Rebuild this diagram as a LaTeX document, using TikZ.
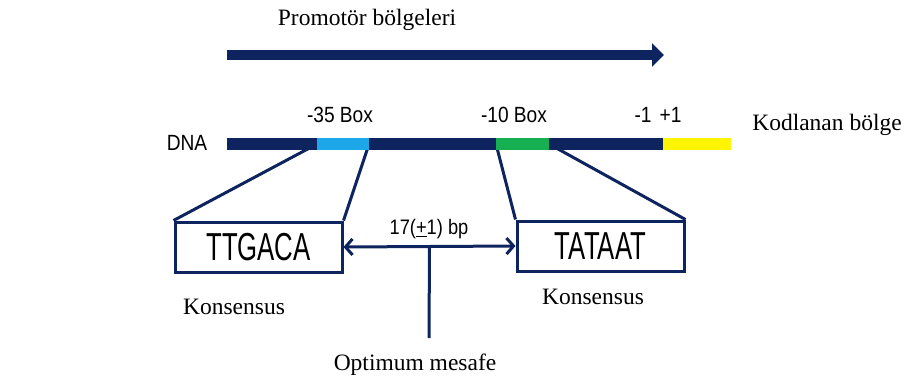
\documentclass[tikz,border=0pt]{standalone}
\usepackage{fontspec}
\setmainfont{Liberation Serif}
\newfontfamily\etiquette[FakeStretch=0.87]{Liberation Sans}
\newfontfamily\sequencefont[FakeStretch=0.66]{Liberation Sans}
\usetikzlibrary{arrows.meta,calc}
\definecolor{marine}{RGB}{14,36,94}
\definecolor{cyanboite}{RGB}{28,168,232}
\definecolor{vertboite}{RGB}{22,176,82}
\definecolor{jaune}{RGB}{255,245,0}
\begin{document}
\begin{tikzpicture}[x=1pt,y=-1pt]
	% Styles
	\tikzstyle{brin}=[line width=12pt]
	\tikzstyle{promoteur}=[marine,line width=10pt,-{Triangle[length=12pt,width=23pt]}]
	\tikzstyle{lien}=[marine,line width=3pt]
	\tikzstyle{ecart}=[marine,line width=3pt,{Straight Barb[length=7pt,width=16pt]}-{Straight Barb[length=7pt,width=16pt]}]
	\tikzstyle{boite}=[draw=marine,line width=3pt,minimum width=167pt,minimum height=50pt,inner sep=0pt]
	\tikzstyle{legende}=[inner sep=0pt,font=\fontsize{23.5}{28}\selectfont]
	\tikzstyle{commentaire}=[inner sep=0pt,font=\etiquette\fontsize{22}{26}\selectfont]
	\tikzstyle{sequenceboite}=[font=\sequencefont\fontsize{39}{44}\selectfont]
	% Dimensions
	\def\HauteurADN{144}
	\def\HauteurPromoteur{55}
	\useasboundingbox (0,0) rectangle (905,383);
	% Noeuds
	\node[legende] (promo) at (367,20) {Promotör bölgeleri};
	\node[legende] (kodlanan) at (827,125) {Kodlanan bölge};
	\node[commentaire] (dna) at (187,143) {DNA};
	\node[commentaire] (b35) at (340,115) {-35 Box};
	\node[commentaire] (b10) at (514,115) {-10 Box};
	\node[commentaire] (plus1) at (658,115) {-1\hspace{8pt}+1};
	\node[boite,sequenceboite] (TTGACA) at (258.5,247) {TTGACA};
	\node[boite,sequenceboite] (TATAAT) at (600.5,246) {TATAAT};
	\node[commentaire,font=\etiquette\fontsize{21}{25}\selectfont] (bp) at (429,229) {17(\underline{+}1) bp};
	\node[legende] (kons1) at (234,307) {Konsensus};
	\node[legende] (kons2) at (593,297) {Konsensus};
	\node[legende] (optimum) at (415,365) {Optimum mesafe};
	% Points du brin
	\coordinate (p0) at (227,\HauteurPromoteur);
	\coordinate (p1) at (664,\HauteurPromoteur);
	\coordinate (a0) at (227,\HauteurADN);
	\coordinate (a1) at (317,\HauteurADN);
	\coordinate (a2) at (369,\HauteurADN);
	\coordinate (a3) at (496,\HauteurADN);
	\coordinate (a4) at (549,\HauteurADN);
	\coordinate (a5) at (663,\HauteurADN);
	\coordinate (a6) at (731,\HauteurADN);
	\coordinate (milieu) at ($(TTGACA.east)!0.5!(TATAAT.west)$);
	\coordinate (bas) at (429,338);
	% Arcs
	\draw[promoteur] (p0) -- (p1);
	\draw[lien] (a1) -- (TTGACA.north west);
	\draw[lien] (a2) -- (TTGACA.north east);
	\draw[lien] (a3) -- (TATAAT.north west);
	\draw[lien] (a4) -- (TATAAT.north east);
	\draw[brin,marine] (a0) -- (a1);
	\draw[brin,cyanboite] (a1) -- (a2);
	\draw[brin,marine] (a2) -- (a3);
	\draw[brin,vertboite] (a3) -- (a4);
	\draw[brin,marine] (a4) -- (a5);
	\draw[brin,jaune] (a5) -- (a6);
	\draw[ecart] (TTGACA.east) -- (TATAAT.west);
	\draw[lien] (milieu) -- (bas);
\end{tikzpicture}
\end{document}
